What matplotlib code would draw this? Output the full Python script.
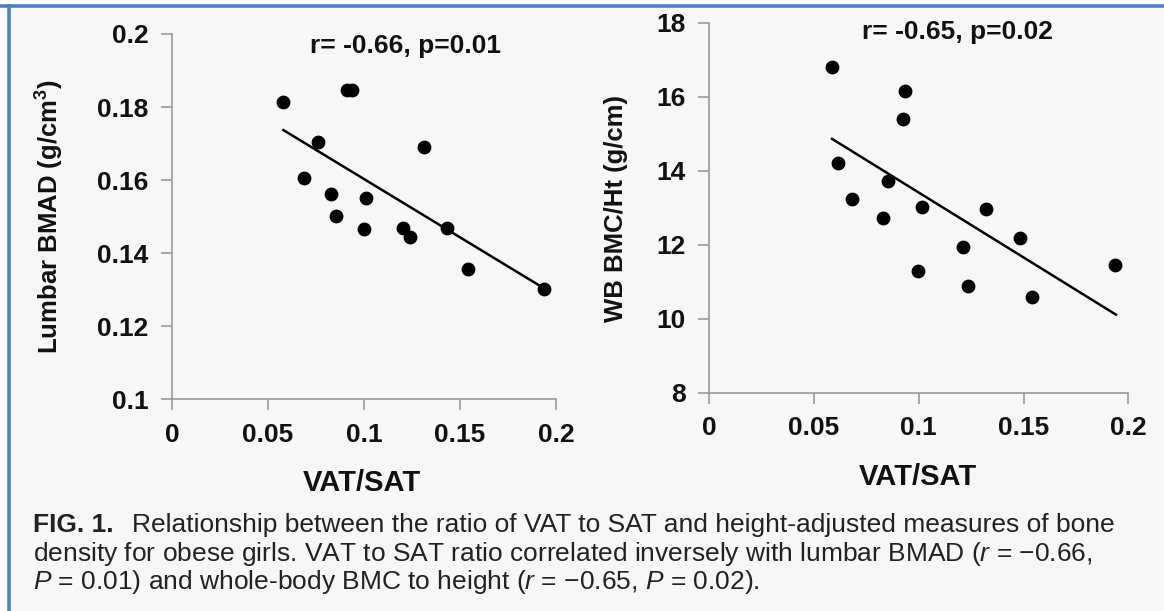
import matplotlib
matplotlib.use("Agg")
import matplotlib.pyplot as plt
from matplotlib.lines import Line2D
from matplotlib.patches import Rectangle

W, H = 1164, 611
BG = "#f7f7f7"
BORDER = "#4f81bd"
AXIS_GREY = "#9a9a9a"
INK = "#111111"

# ---- data ----
vs_left = [0.058, 0.091, 0.094, 0.076, 0.131, 0.0685, 0.083, 0.101, 0.0855, 0.100, 0.1205, 0.124, 0.143, 0.154, 0.194]
bmad = [0.1815, 0.1847, 0.1847, 0.1704, 0.1691, 0.1606, 0.1562, 0.1552, 0.1501, 0.1466, 0.1468, 0.1443, 0.1469, 0.1356, 0.1303]
bmad_fit_x = [0.058, 0.194]
bmad_fit_y = [0.1737, 0.1303]

vs_right = [0.0586, 0.0934, 0.0923, 0.0612, 0.0853, 0.0682, 0.0829, 0.1013, 0.1320, 0.1213, 0.0994, 0.1237, 0.1485, 0.1540, 0.1936]
bmc_ht = [16.81, 16.15, 15.40, 14.20, 13.73, 13.24, 12.73, 13.01, 12.96, 11.95, 11.28, 10.88, 12.19, 10.60, 11.44]
bmc_fit_x = [0.0586, 0.1941]
bmc_fit_y = [14.86, 10.11]

x_ticks = [0, 0.05, 0.1, 0.15, 0.2]
x_ticklabels = ["0", "0.05", "0.1", "0.15", "0.2"]
left_yticks = [0.1, 0.12, 0.14, 0.16, 0.18, 0.2]
left_yticklabels = ["0.1", "0.12", "0.14", "0.16", "0.18", "0.2"]
right_yticks = [8, 10, 12, 14, 16, 18]

plt.rcParams["font.family"] = ["Liberation Sans", "DejaVu Sans"]
plt.rcParams["mathtext.fontset"] = "custom"
plt.rcParams["mathtext.rm"] = "Liberation Sans"
plt.rcParams["mathtext.it"] = "Liberation Sans:italic"
plt.rcParams["mathtext.bf"] = "Liberation Sans:bold"


def px(x, y):
    return x / W, 1 - y / H


fig = plt.figure(figsize=(W / 100, H / 100), dpi=100)
fig.patch.set_facecolor("white")
# light grey page inside the blue frame
fig.add_artist(Rectangle((9 / W, 0), 1 - 9 / W, 1 - 6 / H, transform=fig.transFigure,
                         facecolor=BG, edgecolor="none", zorder=-10))


def style_axes(ax):
    ax.set_facecolor("none")
    for s in ("top", "right"):
        ax.spines[s].set_visible(False)
    for s in ("left", "bottom"):
        ax.spines[s].set_color(AXIS_GREY)
        ax.spines[s].set_linewidth(1.2)
    ax.tick_params(direction="out", length=8, width=1.2, color=AXIS_GREY,
                   labelsize=19, pad=9, labelcolor=INK)
    for lab in ax.get_xticklabels() + ax.get_yticklabels():
        lab.set_fontweight("bold")


# left panel
axl = fig.add_axes([172 / W, 1 - 399.3 / H, 384 / W, 365.3 / H])
axl.scatter(vs_left, bmad, s=80, color="black", zorder=3)
axl.plot(bmad_fit_x, bmad_fit_y, color="black", lw=1.8)
axl.set_xlim(0, 0.2)
axl.set_ylim(0.1, 0.2)
axl.set_xticks(x_ticks, x_ticklabels)
axl.set_yticks(left_yticks, left_yticklabels)
style_axes(axl)

# right panel
axr = fig.add_axes([709.3 / W, 1 - 392.7 / H, 419 / W, 370 / H])
axr.scatter(vs_right, bmc_ht, s=80, color="black", zorder=3)
axr.plot(bmc_fit_x, bmc_fit_y, color="black", lw=1.8)
axr.set_xlim(0, 0.2)
axr.set_ylim(8, 18)
axr.set_xticks(x_ticks, x_ticklabels)
axr.set_yticks(right_yticks)
style_axes(axr)

# panel texts
fig.text(*px(406, 46), "r= -0.66, p=0.01", fontsize=19, fontweight="bold",
         ha="center", va="center", color=INK)
fig.text(*px(957, 32), "r= -0.65, p=0.02", fontsize=19, fontweight="bold",
         ha="center", va="center", color=INK)
fig.text(*px(362, 483), "VAT/SAT", fontsize=21, fontweight="bold",
         ha="center", va="center", color=INK)
fig.text(*px(918, 477), "VAT/SAT", fontsize=21, fontweight="bold",
         ha="center", va="center", color=INK)
fig.text(*px(50, 217), r"Lumbar BMAD (g/cm$\mathbf{^3}$)", fontsize=18.5,
         fontweight="bold", rotation=90, ha="center", va="center", color=INK)
fig.text(*px(616, 208), "WB BMC/Ht (g/cm)", fontsize=18.5, fontweight="bold",
         rotation=90, ha="center", va="center", color=INK)

# caption
CAP = "#222222"
fig.text(*px(33, 525), "FIG. 1.", fontsize=19, fontweight="bold",
         ha="left", va="center", color=CAP)
fig.text(*px(132, 525),
         "Relationship between the ratio of VAT to SAT and height-adjusted measures of bone",
         fontsize=19, ha="left", va="center", color=CAP)
fig.text(*px(33, 554),
         "density for obese girls. VAT to SAT ratio correlated inversely with lumbar BMAD ($r$ = \u22120.66,",
         fontsize=19, ha="left", va="center", color=CAP)
fig.text(*px(33, 582),
         "$P$ = 0.01) and whole-body BMC to height ($r$ = \u22120.65, $P$ = 0.02).",
         fontsize=19, ha="left", va="center", color=CAP)

# blue frame lines at top and left
fig.add_artist(Line2D([0, 1], [1 - 5.7 / H] * 2, color=BORDER, lw=2.6))
fig.add_artist(Line2D([8.5 / W] * 2, [0, 1 - 5.7 / H], color=BORDER, lw=2.6))

fig.savefig("out.png", dpi=100, facecolor="white")
